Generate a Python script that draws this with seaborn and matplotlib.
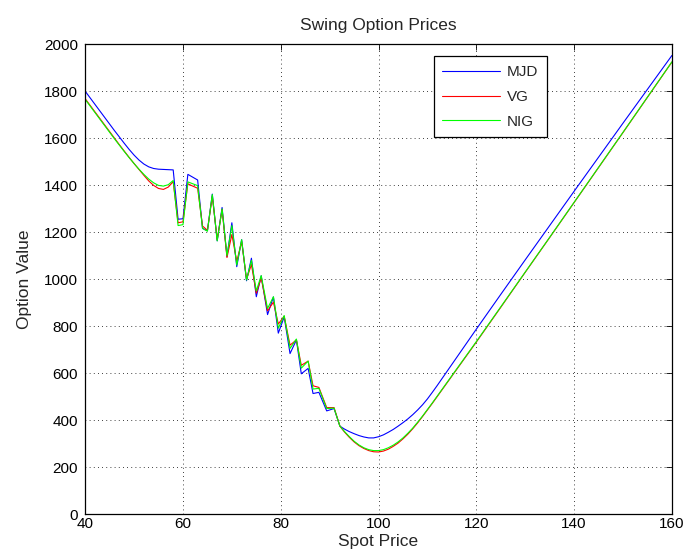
import numpy as np
import pandas as pd
import matplotlib
matplotlib.use("Agg")
import matplotlib.pyplot as plt
import seaborn as sns

# ---- data ----
spot = [40, 41, 42, 43, 44, 45, 46, 47, 48, 49, 50, 51, 52, 53, 54, 55, 56, 57, 58,
        59, 60, 61, 62, 63, 64, 65, 66, 67, 68, 69, 70, 71, 72, 73, 74, 75, 76,
        77.3, 78.5, 79.5, 80.7, 81.9, 83.2, 84.2, 85.6, 86.6, 87.8, 89.4, 90.9, 92.1,
        93, 94, 95, 96, 97, 98, 99, 100, 101, 102, 103, 104, 105, 106, 107, 108, 109,
        110, 111, 112, 113, 114, 115, 116, 117, 118, 119, 120,
        125, 130, 135, 140, 145, 150, 155, 160]

mjd = [1800, 1772, 1744, 1716, 1688, 1660, 1632, 1605, 1578, 1552, 1528, 1507, 1490, 1478, 1471, 1468, 1467, 1466, 1465,
       1255, 1257, 1446, 1434, 1422, 1216, 1206, 1362, 1163, 1305, 1096, 1240, 1053, 1168, 993, 1089, 925, 1014,
       849, 924, 770, 839, 683, 741, 597, 620, 513, 518, 439, 449, 374,
       362, 351, 342, 334, 328, 324, 324, 329, 337, 348, 360, 374, 389, 405, 423, 443, 465,
       490, 518, 547, 577, 607, 637, 667, 697, 727, 757, 787,
       935, 1082, 1228, 1374, 1519, 1664, 1808, 1952]

vg = [1768, 1740, 1712, 1684, 1656, 1628, 1600, 1572, 1545, 1518, 1492, 1467, 1442, 1418, 1399, 1386, 1382, 1392, 1415,
      1240, 1244, 1406, 1396, 1387, 1226, 1208, 1352, 1168, 1296, 1092, 1190, 1075, 1160, 1000, 1062, 940, 1005,
      865, 902, 809, 842, 719, 741, 633, 651, 546, 539, 453, 453, 374,
      350, 327, 307, 291, 279, 270, 265, 264, 268, 276, 288, 302, 320, 340, 363, 388, 415,
      443, 471, 500, 529, 558, 587, 616, 645, 674, 703, 732,
      880, 1029, 1177, 1326, 1475, 1624, 1774, 1924]

nig = [1765, 1737, 1709, 1681, 1653, 1625, 1597, 1570, 1543, 1517, 1492, 1468, 1446, 1426, 1410, 1399, 1396, 1402, 1420,
       1228, 1232, 1414, 1406, 1398, 1216, 1204, 1360, 1163, 1299, 1100, 1228, 1060, 1168, 996, 1080, 950, 1015,
       875, 925, 791, 845, 705, 745, 621, 651, 532, 535, 449, 451, 374,
       352, 330, 310, 294, 282, 274, 270, 270, 274, 282, 293, 307, 324, 344, 366, 391, 417,
       445, 473, 502, 531, 560, 589, 618, 647, 676, 705, 734,
       882, 1030, 1178, 1327, 1476, 1625, 1775, 1925]

series_names = ["MJD", "VG", "NIG"]
colors = ["#0000ff", "#ff0000", "#00ff00"]
x_ticks = [40, 60, 80, 100, 120, 140, 160]
y_ticks = list(range(0, 2001, 200))

# ---- build long-form table ----
frames = []
for name, vals in zip(series_names, [mjd, vg, nig]):
    frames.append(pd.DataFrame({"Spot Price": spot, "Option Value": vals, "Model": name}))
df = pd.concat(frames, ignore_index=True)

sns.set_style("white")
plt.rcParams["font.family"] = ["Liberation Sans", "DejaVu Sans"]

fig = plt.figure(figsize=(6.87, 5.53), dpi=100)
ax = fig.add_axes([0.124, 0.0705, 0.854, 0.8495])

sns.lineplot(data=df, x="Spot Price", y="Option Value", hue="Model",
             palette=dict(zip(series_names, colors)), sort=False,
             estimator=None, linewidth=0.8, ax=ax)

ax.set_xlim(40, 160)
ax.set_ylim(0, 2000)
ax.set_xticks(x_ticks)
ax.set_yticks(y_ticks)
ax.tick_params(direction="in", top=True, right=True, length=4, width=0.6,
               labelsize=11, colors="black")
ax.tick_params(axis="x", pad=2)
ax.tick_params(axis="y", pad=5)
ax.grid(True, linestyle=(0, (1, 4)), color="black", linewidth=0.6)
for s in ax.spines.values():
    s.set_color("black")
    s.set_linewidth(0.9)

ax.set_title("Swing Option Prices", fontsize=12.5, pad=10)
ax.set_xlabel("Spot Price", fontsize=12.5, labelpad=2)
ax.set_ylabel("Option Value", fontsize=12.5, labelpad=9)

handles, labels = ax.get_legend_handles_labels()
leg = ax.legend(handles, labels, loc="upper left", bbox_to_anchor=(0.594, 0.974),
                fontsize=11, frameon=True, fancybox=False, handlelength=3.8,
                handletextpad=0.4, borderpad=0.57, labelspacing=0.7, borderaxespad=0)
leg.get_frame().set_edgecolor("black")
leg.get_frame().set_linewidth(0.9)
leg.get_frame().set_alpha(1)

fig.savefig("out.png", dpi=100)
